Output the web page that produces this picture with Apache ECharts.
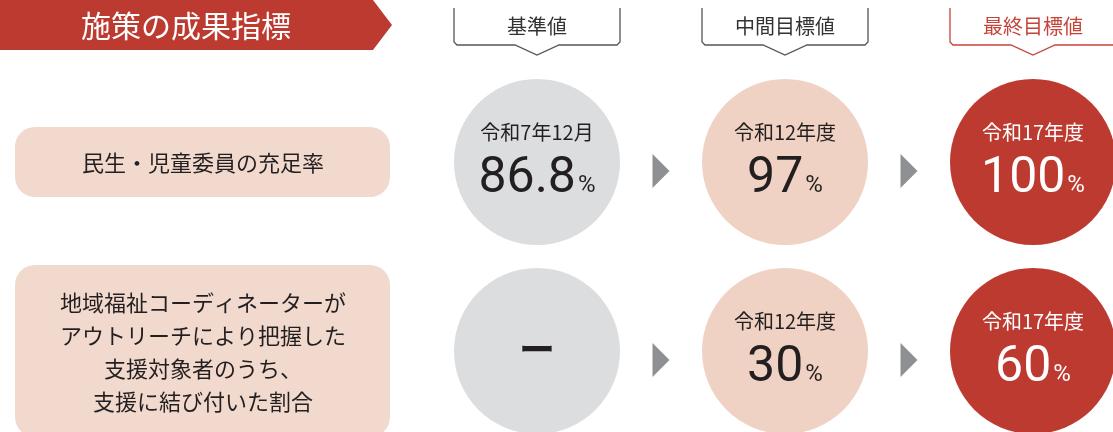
<!DOCTYPE html>
<html>
<head>
<meta charset="utf-8">
<title>施策の成果指標</title>
<script src="https://cdn.jsdelivr.net/npm/echarts@6/dist/echarts.min.js"></script>
<style>
html, body { margin: 0; padding: 0; background: #fff; }
#main { width: 1113px; height: 432px; }
</style>
</head>
<body>
<div id="main"></div>
<script>
// 見出し
const title = '施策の成果指標'
const stages = ['基準値', '中間目標値', '最終目標値']
const indicators = [
  '民生・児童委員の充足率',
  '地域福祉コーディネーターが\nアウトリーチにより把握した\n支援対象者のうち、\n支援に結び付いた割合'
]
// 時点
const periods = [
  ['令和7年12月', '令和12年度', '令和17年度'],
  ['', '令和12年度', '令和17年度']
]
// 値(%) null = 基準値なし
const values = [
  [86.8, 97, 100],
  [null, 30, 60]
]

const circleColors = ['#dcdddf', '#efd2c3', '#bd3a31']
const textColors = ['#231f20', '#231f20', '#ffffff']
const boxHeights = [70, 172]
const numFont = 'Roboto, "DejaVu Sans", sans-serif'
const jpFont = '"Noto Sans CJK JP", sans-serif'

const chart = echarts.init(document.getElementById('main'))

// 円
const circleData = []
values.forEach((row, r) => {
  row.forEach((v, c) => {
    circleData.push({
      value: [c, r],
      itemStyle: { color: circleColors[c], opacity: 1 },
      label: {
        color: textColors[c],
        formatter: v == null
          ? '{dash|ー}'
          : '{period|' + periods[r][c] + '}\n{num|' + v + '}{pct|%}'
      }
    })
  })
})

// 矢印
const arrowData = []
indicators.forEach((_, r) => {
  for (let c = 0; c < stages.length - 1; c++) {
    arrowData.push([c + 0.5, r])
  }
})

chart.setOption({
  animation: false,
  grid: { left: 0, right: 0, top: 0, bottom: 0 },
  xAxis: { type: 'value', min: -537 / 248, max: (1113 - 537) / 248, show: false },
  yAxis: { type: 'value', inverse: true, min: -162 / 189, max: (432 - 162) / 189, show: false },
  graphic: [
    {
      type: 'polygon',
      shape: { points: [[0, 0], [373, 0], [392, 25], [373, 50], [0, 50]] },
      style: { fill: '#bd3a31' }
    },
    {
      type: 'text',
      x: 186,
      y: 26,
      style: {
        text: title,
        fill: '#ffffff',
        fontSize: 30,
        fontWeight: 400,
        fontFamily: jpFont,
        align: 'center',
        verticalAlign: 'middle'
      }
    }
  ],
  series: [
    {
      // 左側の指標名
      type: 'custom',
      silent: true,
      data: indicators.map((_, r) => [0, r]),
      renderItem(params, api) {
        const r = api.value(1)
        const cy = api.coord([0, r])[1]
        const h = boxHeights[r]
        return {
          type: 'group',
          children: [
            {
              type: 'rect',
              shape: { x: 15, y: cy - h / 2, width: 375, height: h, r: 20 },
              style: { fill: '#f2d9ce' }
            },
            {
              type: 'text',
              x: 203,
              y: cy + 1,
              style: {
                text: indicators[r],
                fill: '#231f20',
                fontSize: 22,
                fontFamily: jpFont,
                lineHeight: 33,
                align: 'center',
                verticalAlign: 'middle'
              }
            }
          ]
        }
      }
    },
    {
      // 上部の見出し
      type: 'custom',
      silent: true,
      data: stages.map((_, c) => [c, 0]),
      renderItem(params, api) {
        const c = api.value(0)
        const cx = api.coord([c, 0])[0]
        const half = 83
        const color = c === stages.length - 1 ? '#c6433a' : '#555555'
        return {
          type: 'group',
          children: [
            {
              type: 'polyline',
              shape: {
                points: [
                  [cx - half, 8], [cx - half, 42], [cx - half + 3, 45],
                  [cx - 22, 45], [cx, 55], [cx + 22, 45],
                  [cx + half - 3, 45], [cx + half, 42], [cx + half, 8]
                ]
              },
              style: { stroke: color, lineWidth: 1.3, fill: null }
            },
            {
              type: 'text',
              x: cx,
              y: 26,
              style: {
                text: stages[c],
                fill: c === stages.length - 1 ? '#c6433a' : '#333333',
                fontSize: 20,
                fontFamily: jpFont,
                align: 'center',
                verticalAlign: 'middle'
              }
            }
          ]
        }
      }
    },
    {
      type: 'scatter',
      silent: true,
      symbol: 'circle',
      symbolSize: 166,
      itemStyle: { opacity: 1 },
      data: circleData,
      label: {
        show: true,
        position: 'inside',
        offset: [0, -2],
        rich: {
          period: { fontSize: 20, fontFamily: jpFont, lineHeight: 32 },
          num: { fontSize: 50, fontFamily: numFont, lineHeight: 56, verticalAlign: 'bottom' },
          pct: { fontSize: 24, fontFamily: numFont, lineHeight: 24, verticalAlign: 'bottom', padding: [0, 0, 6, 2] },
          dash: { fontSize: 36, fontWeight: 'bold', fontFamily: jpFont, color: '#231f20' }
        }
      }
    },
    {
      type: 'scatter',
      silent: true,
      symbol: 'path://M0,0L1,0.5L0,1Z',
      symbolSize: [17, 34],
      symbolOffset: [0, 9],
      itemStyle: { color: '#8e9094', opacity: 1 },
      data: arrowData
    }
  ]
})
</script>
</body>
</html>
